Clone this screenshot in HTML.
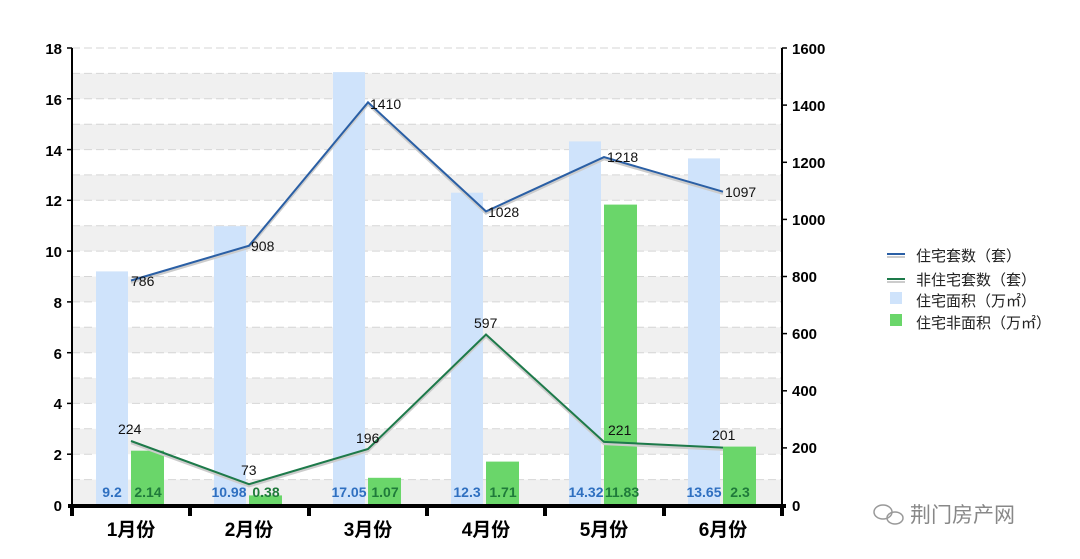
<!DOCTYPE html>
<html><head><meta charset="utf-8"><style>
body{margin:0;background:#fff;}
svg{display:block;font-family:"Liberation Sans","Noto Sans CJK SC",sans-serif;}
</style></head><body>
<svg width="1080" height="559" viewBox="0 0 1080 559">
<g fill="#f0f0f0">
<rect x="72" y="479.6" width="710" height="25.4"/>
<rect x="72" y="428.8" width="710" height="25.4"/>
<rect x="72" y="378.0" width="710" height="25.4"/>
<rect x="72" y="327.3" width="710" height="25.4"/>
<rect x="72" y="276.5" width="710" height="25.4"/>
<rect x="72" y="225.7" width="710" height="25.4"/>
<rect x="72" y="174.9" width="710" height="25.4"/>
<rect x="72" y="124.2" width="710" height="25.4"/>
<rect x="72" y="73.4" width="710" height="25.4"/>
</g>
<g stroke="#d6d6d6" stroke-dasharray="8,4" stroke-width="1">
<line x1="72" x2="782" y1="479.6" y2="479.6"/><line x1="72" x2="782" y1="454.2" y2="454.2"/>
<line x1="72" x2="782" y1="428.8" y2="428.8"/><line x1="72" x2="782" y1="403.4" y2="403.4"/>
<line x1="72" x2="782" y1="378.0" y2="378.0"/><line x1="72" x2="782" y1="352.7" y2="352.7"/>
<line x1="72" x2="782" y1="327.3" y2="327.3"/><line x1="72" x2="782" y1="301.9" y2="301.9"/>
<line x1="72" x2="782" y1="276.5" y2="276.5"/><line x1="72" x2="782" y1="251.1" y2="251.1"/>
<line x1="72" x2="782" y1="225.7" y2="225.7"/><line x1="72" x2="782" y1="200.3" y2="200.3"/>
<line x1="72" x2="782" y1="174.9" y2="174.9"/><line x1="72" x2="782" y1="149.6" y2="149.6"/>
<line x1="72" x2="782" y1="124.2" y2="124.2"/><line x1="72" x2="782" y1="98.8" y2="98.8"/>
<line x1="72" x2="782" y1="73.4" y2="73.4"/><line x1="72" x2="782" y1="48" y2="48"/>
</g>
<g fill="#cfe3fb">
<rect x="96" y="271.4" width="32" height="233.6"/>
<rect x="214" y="226.2" width="32" height="278.8"/>
<rect x="333" y="72.1" width="32" height="432.9"/>
<rect x="451" y="192.7" width="32" height="312.3"/>
<rect x="569" y="141.4" width="32" height="363.6"/>
<rect x="688" y="158.4" width="32" height="346.6"/>
</g>
<g fill="#6ad66a">
<rect x="131" y="450.7" width="33" height="54.3"/>
<rect x="249" y="495.4" width="33" height="9.6"/>
<rect x="368" y="477.8" width="33" height="27.2"/>
<rect x="486" y="461.6" width="33" height="43.4"/>
<rect x="604" y="204.6" width="33" height="300.4"/>
<rect x="723" y="446.6" width="33" height="58.4"/>
</g>
<g stroke="#000" stroke-width="2">
<line x1="72" y1="48" x2="72" y2="505"/>
<line x1="782" y1="48" x2="782" y2="505"/>
</g>
<line x1="68" y1="506" x2="786" y2="506" stroke="#000" stroke-width="4"/>
<g stroke="#000" stroke-width="4">
<line x1="72" y1="505" x2="72" y2="516"/><line x1="190" y1="505" x2="190" y2="516"/>
<line x1="309" y1="505" x2="309" y2="516"/><line x1="427" y1="505" x2="427" y2="516"/>
<line x1="545" y1="505" x2="545" y2="516"/><line x1="664" y1="505" x2="664" y2="516"/>
<line x1="782" y1="505" x2="782" y2="516"/>
</g>
<g stroke="#000" stroke-width="1.5">
<line x1="67" x2="72" y1="48" y2="48"/><line x1="67" x2="72" y1="98.8" y2="98.8"/><line x1="67" x2="72" y1="149.6" y2="149.6"/><line x1="67" x2="72" y1="200.3" y2="200.3"/><line x1="67" x2="72" y1="251.1" y2="251.1"/><line x1="67" x2="72" y1="301.9" y2="301.9"/><line x1="67" x2="72" y1="352.7" y2="352.7"/><line x1="67" x2="72" y1="403.4" y2="403.4"/><line x1="67" x2="72" y1="454.2" y2="454.2"/>
<line x1="782" x2="787" y1="48" y2="48"/><line x1="782" x2="787" y1="105.1" y2="105.1"/><line x1="782" x2="787" y1="162.3" y2="162.3"/><line x1="782" x2="787" y1="219.4" y2="219.4"/><line x1="782" x2="787" y1="276.5" y2="276.5"/><line x1="782" x2="787" y1="333.6" y2="333.6"/><line x1="782" x2="787" y1="390.8" y2="390.8"/><line x1="782" x2="787" y1="447.9" y2="447.9"/>
</g>
<g font-size="15" font-weight="bold" fill="#000" text-anchor="end">
<text x="62" y="54">18</text><text x="62" y="105">16</text><text x="62" y="156">14</text><text x="62" y="206">12</text><text x="62" y="257">10</text><text x="62" y="308">8</text><text x="62" y="359">6</text><text x="62" y="409">4</text><text x="62" y="460">2</text><text x="62" y="511">0</text>
</g>
<g font-size="15" font-weight="bold" fill="#000">
<text x="792" y="54">1600</text><text x="792" y="111">1400</text><text x="792" y="168">1200</text><text x="792" y="225">1000</text><text x="792" y="282">800</text><text x="792" y="339">600</text><text x="792" y="396">400</text><text x="792" y="453">200</text><text x="792" y="511">0</text>
</g>
<g font-size="19" font-weight="bold" fill="#000" text-anchor="middle">
<text x="131" y="536">1月份</text><text x="249" y="536">2月份</text><text x="368" y="536">3月份</text><text x="486" y="536">4月份</text><text x="604" y="536">5月份</text><text x="723" y="536">6月份</text>
</g>
<polyline fill="none" stroke="#cccccc" stroke-width="2.5" points="131,280.5 249,245.7 368,102.3 486,211.4 604,157.1 723,191.7" transform="translate(0,2)"/>
<polyline fill="none" stroke="#2a5fa5" stroke-width="2" points="131,280.5 249,245.7 368,102.3 486,211.4 604,157.1 723,191.7"/>
<polyline fill="none" stroke="#cccccc" stroke-width="2.5" points="131,441.0 249,484.2 368,449.0 486,334.5 604,441.9 723,447.6" transform="translate(0,2)"/>
<polyline fill="none" stroke="#1d7a4a" stroke-width="2" points="131,441.0 249,484.2 368,449.0 486,334.5 604,441.9 723,447.6"/>
<g font-size="14" fill="#111">
<text x="131" y="286">786</text><text x="251" y="251">908</text><text x="370" y="109">1410</text><text x="488" y="217">1028</text><text x="607" y="162">1218</text><text x="725" y="197">1097</text>
<text x="118" y="434">224</text><text x="241" y="475">73</text><text x="356" y="443">196</text><text x="474" y="328">597</text><text x="608" y="435">221</text><text x="712" y="440">201</text>
</g>
<g font-size="14" font-weight="bold">
<g fill="#2e6fc0" text-anchor="middle"><text x="112" y="497">9.2</text><text x="229" y="497">10.98</text><text x="349" y="497">17.05</text><text x="467" y="497">12.3</text><text x="586" y="497">14.32</text><text x="704" y="497">13.65</text></g>
<g fill="#1f7a3a" text-anchor="middle"><text x="148" y="497">2.14</text><text x="266" y="497">0.38</text><text x="385" y="497">1.07</text><text x="503" y="497">1.71</text><text x="622" y="497">11.83</text><text x="740" y="497">2.3</text></g>
</g>
<line x1="887" x2="905" y1="254" y2="254" stroke="#2a5fa5" stroke-width="2"/><line x1="887" x2="905" y1="257" y2="257" stroke="#ccc" stroke-width="2"/>
<line x1="887" x2="905" y1="279" y2="279" stroke="#1d7a4a" stroke-width="2"/><line x1="887" x2="905" y1="282" y2="282" stroke="#ccc" stroke-width="2"/>
<rect x="890" y="292" width="12" height="12" fill="#cfe3fb"/>
<rect x="890" y="314" width="12" height="12" fill="#6ad66a"/>
<g font-size="15" fill="#222">
<text x="916" y="261">住宅套数（套）</text><text x="916" y="285">非住宅套数（套）</text><text x="916" y="306">住宅面积（万㎡）</text><text x="916" y="328">住宅非面积（万㎡）</text>
</g>
<g fill="none" stroke="#999" stroke-width="1.5"><ellipse cx="883" cy="512" rx="9" ry="7"/><ellipse cx="895" cy="518" rx="8" ry="6"/></g>
<text x="910" y="522" font-size="21" fill="#888">荆门房产网</text>
</svg>
</body></html>
